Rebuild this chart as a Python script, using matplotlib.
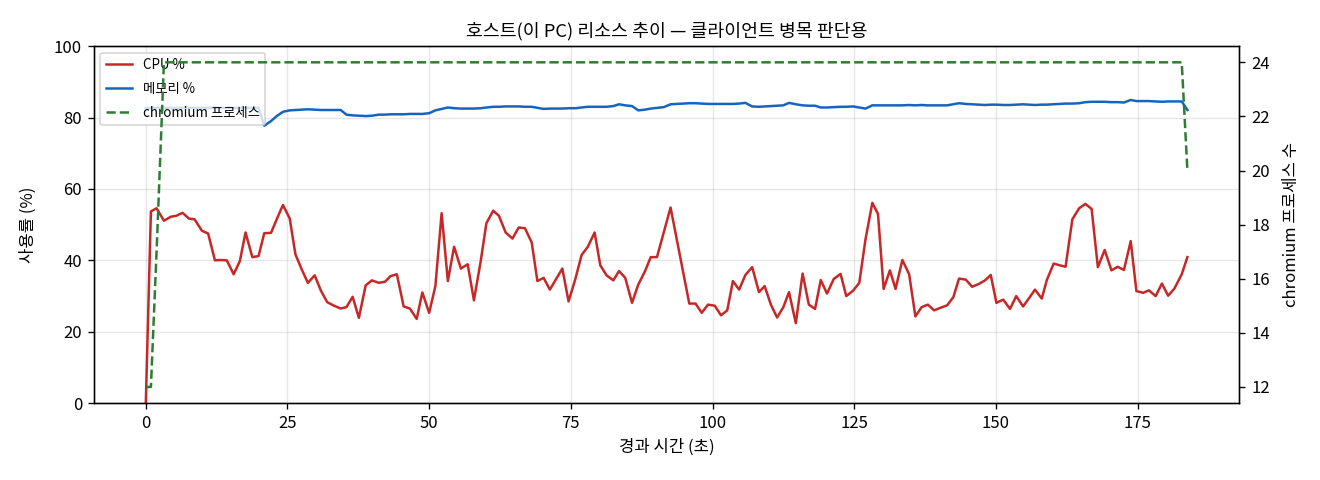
import matplotlib
matplotlib.use("Agg")
import matplotlib.pyplot as plt

plt.rcParams['font.family'] = ['Noto Sans CJK KR', 'DejaVu Sans']
plt.rcParams['axes.unicode_minus'] = False

# elapsed seconds for each sample
elapsed = [0.0, 0.9, 1.9, 3.2, 4.4, 5.4, 6.5, 7.6, 8.6, 9.9, 11.0, 12.2, 13.2, 14.3, 15.5, 16.6,
           17.6, 18.8, 19.9, 20.9, 22.1, 23.1, 24.2, 25.4, 26.4, 27.5, 28.6, 29.8, 30.9, 32.0,
           33.2, 34.4, 35.4, 36.5, 37.6, 38.8, 39.9, 41.1, 42.2, 43.2, 44.3, 45.5, 46.6, 47.8,
           48.8, 50.0, 51.1, 52.2, 53.3, 54.4, 55.6, 56.8, 57.9, 59.1, 60.1, 61.3, 62.3, 63.5,
           64.7, 65.8, 66.9, 68.1, 69.1, 70.2, 71.3, 72.3, 73.5, 74.6, 75.8, 76.9, 78.0, 79.2,
           80.2, 81.3, 82.5, 83.5, 84.6, 85.8, 86.9, 88.1, 89.1, 90.2, 91.4, 92.6, 95.9, 97.0,
           98.1, 99.2, 100.4, 101.5, 102.6, 103.6, 104.7, 105.8, 107.0, 108.2, 109.2, 110.3,
           111.4, 112.5, 113.5, 114.7, 115.9, 117.0, 118.1, 119.1, 120.2, 121.4, 122.6, 123.6,
           124.8, 125.9, 127.0, 128.2, 129.2, 130.2, 131.3, 132.3, 133.5, 134.7, 135.8, 136.9,
           138.0, 139.1, 140.2, 141.4, 142.5, 143.5, 144.7, 145.8, 147.0, 148.1, 149.1, 150.1,
           151.3, 152.5, 153.6, 154.8, 155.9, 156.9, 158.1, 159.0, 160.2, 161.3, 162.3, 163.5,
           164.7, 165.8, 166.9, 168.0, 169.2, 170.4, 171.5, 172.6, 173.8, 174.8, 176.0, 177.0,
           178.2, 179.3, 180.4, 181.5, 182.8, 183.8]

cpu = [0.0, 53.7, 54.6, 51.1, 52.2, 52.5, 53.3, 51.7, 51.5, 48.3, 47.5, 40.0, 40.1, 40.0, 36.1,
       39.8, 47.8, 40.9, 41.2, 47.6, 47.7, 51.5, 55.5, 51.7, 41.7, 37.5, 33.7, 35.8, 31.5, 28.3,
       27.3, 26.5, 26.9, 29.8, 23.9, 33.0, 34.4, 33.7, 34.0, 35.6, 36.1, 27.1, 26.5, 23.6, 31.0,
       25.3, 32.8, 53.2, 34.2, 43.8, 37.7, 38.9, 28.8, 39.8, 50.4, 53.9, 52.5, 47.8, 46.1, 49.2,
       49.0, 45.0, 34.2, 35.1, 31.8, 34.5, 37.7, 28.5, 34.8, 41.5, 43.8, 47.8, 38.6, 35.8, 34.4,
       37.0, 35.1, 28.1, 33.2, 37.0, 40.9, 40.9, 47.8, 54.8, 27.9, 27.9, 25.3, 27.6, 27.3, 24.6,
       26.0, 34.2, 31.8, 35.9, 38.1, 31.1, 32.8, 27.6, 24.0, 26.9, 31.1, 22.4, 36.3, 27.6, 26.4,
       34.5, 30.7, 34.8, 36.2, 30.0, 31.5, 33.7, 45.9, 56.1, 53.0, 32.0, 37.2, 32.0, 40.1, 36.1,
       24.3, 26.9, 27.6, 26.0, 26.7, 27.4, 29.7, 34.9, 34.6, 32.6, 33.4, 34.4, 35.9, 28.1, 29.0,
       26.4, 30.0, 27.1, 29.5, 31.8, 29.3, 34.5, 39.1, 38.6, 38.2, 51.5, 54.6, 55.8, 54.4, 38.1,
       42.9, 37.2, 38.2, 37.3, 45.4, 31.4, 30.9, 31.6, 30.0, 33.5, 30.1, 32.1, 36.1, 40.9]

memory = [82.7, 82.7, 82.7, 82.7, 82.7, 82.7, 82.7, 82.7, 82.7, 82.7, 82.7, 82.7, 82.7, 82.7,
          82.7, 82.7, 82.7, 82.7, 82.7, 77.7, 79.0, 80.4, 81.6, 82.0, 82.1, 82.2, 82.3, 82.2,
          82.1, 82.1, 82.1, 82.1, 80.8, 80.6, 80.5, 80.4, 80.5, 80.8, 80.8, 80.9, 80.9, 80.9,
          81.0, 81.0, 81.0, 81.2, 82.0, 82.4, 82.8, 82.6, 82.5, 82.5, 82.5, 82.6, 82.8, 83.0,
          83.0, 83.1, 83.1, 83.1, 83.0, 83.0, 82.7, 82.4, 82.5, 82.5, 82.5, 82.6, 82.6, 82.8,
          83.0, 83.0, 83.0, 83.0, 83.2, 83.7, 83.4, 83.2, 82.0, 82.2, 82.5, 82.7, 82.9, 83.7,
          84.0, 84.0, 83.9, 83.8, 83.8, 83.8, 83.8, 83.8, 83.9, 84.1, 83.1, 83.0, 83.1, 83.2,
          83.3, 83.4, 84.1, 83.7, 83.4, 83.3, 83.3, 82.8, 82.8, 82.9, 83.0, 83.0, 83.1, 82.8,
          82.5, 83.4, 83.4, 83.4, 83.4, 83.4, 83.4, 83.5, 83.4, 83.5, 83.4, 83.4, 83.4, 83.4,
          83.7, 84.0, 83.8, 83.7, 83.6, 83.5, 83.6, 83.6, 83.5, 83.5, 83.6, 83.7, 83.6, 83.5,
          83.6, 83.6, 83.7, 83.8, 83.9, 83.9, 84.0, 84.3, 84.4, 84.4, 84.4, 84.3, 84.3, 84.2,
          84.9, 84.6, 84.6, 84.6, 84.5, 84.4, 84.5, 84.5, 84.5, 82.1]

chromium = [12, 12, 17] + [24] * 160 + [20]

fig, ax = plt.subplots(figsize=(11, 4), dpi=120)
fig.subplots_adjust(left=0.071, right=0.939, top=0.904, bottom=0.16)

l1, = ax.plot(elapsed, cpu, color='#c62828', lw=1.5, label='CPU %')
l2, = ax.plot(elapsed, memory, color='#1565c0', lw=1.5, label='메모리 %')
ax.set_ylim(0, 100)
ax.set_xlabel('경과 시간 (초)')
ax.set_ylabel('사용률 (%)', labelpad=10)
ax.grid(True, alpha=0.3)

ax2 = ax.twinx()
l3, = ax2.plot(elapsed, chromium, color='#2e7d32', lw=1.5, ls='--', label='chromium 프로세스')
ax2.set_ylabel('chromium 프로세스 수', labelpad=8)

ax.legend(handles=[l1, l2, l3], loc='upper left', fontsize=8, labelspacing=0.75)
ax.set_title('호스트(이 PC) 리소스 추이 — 클라이언트 병목 판단용', fontsize=11)

fig.savefig('out.png')
